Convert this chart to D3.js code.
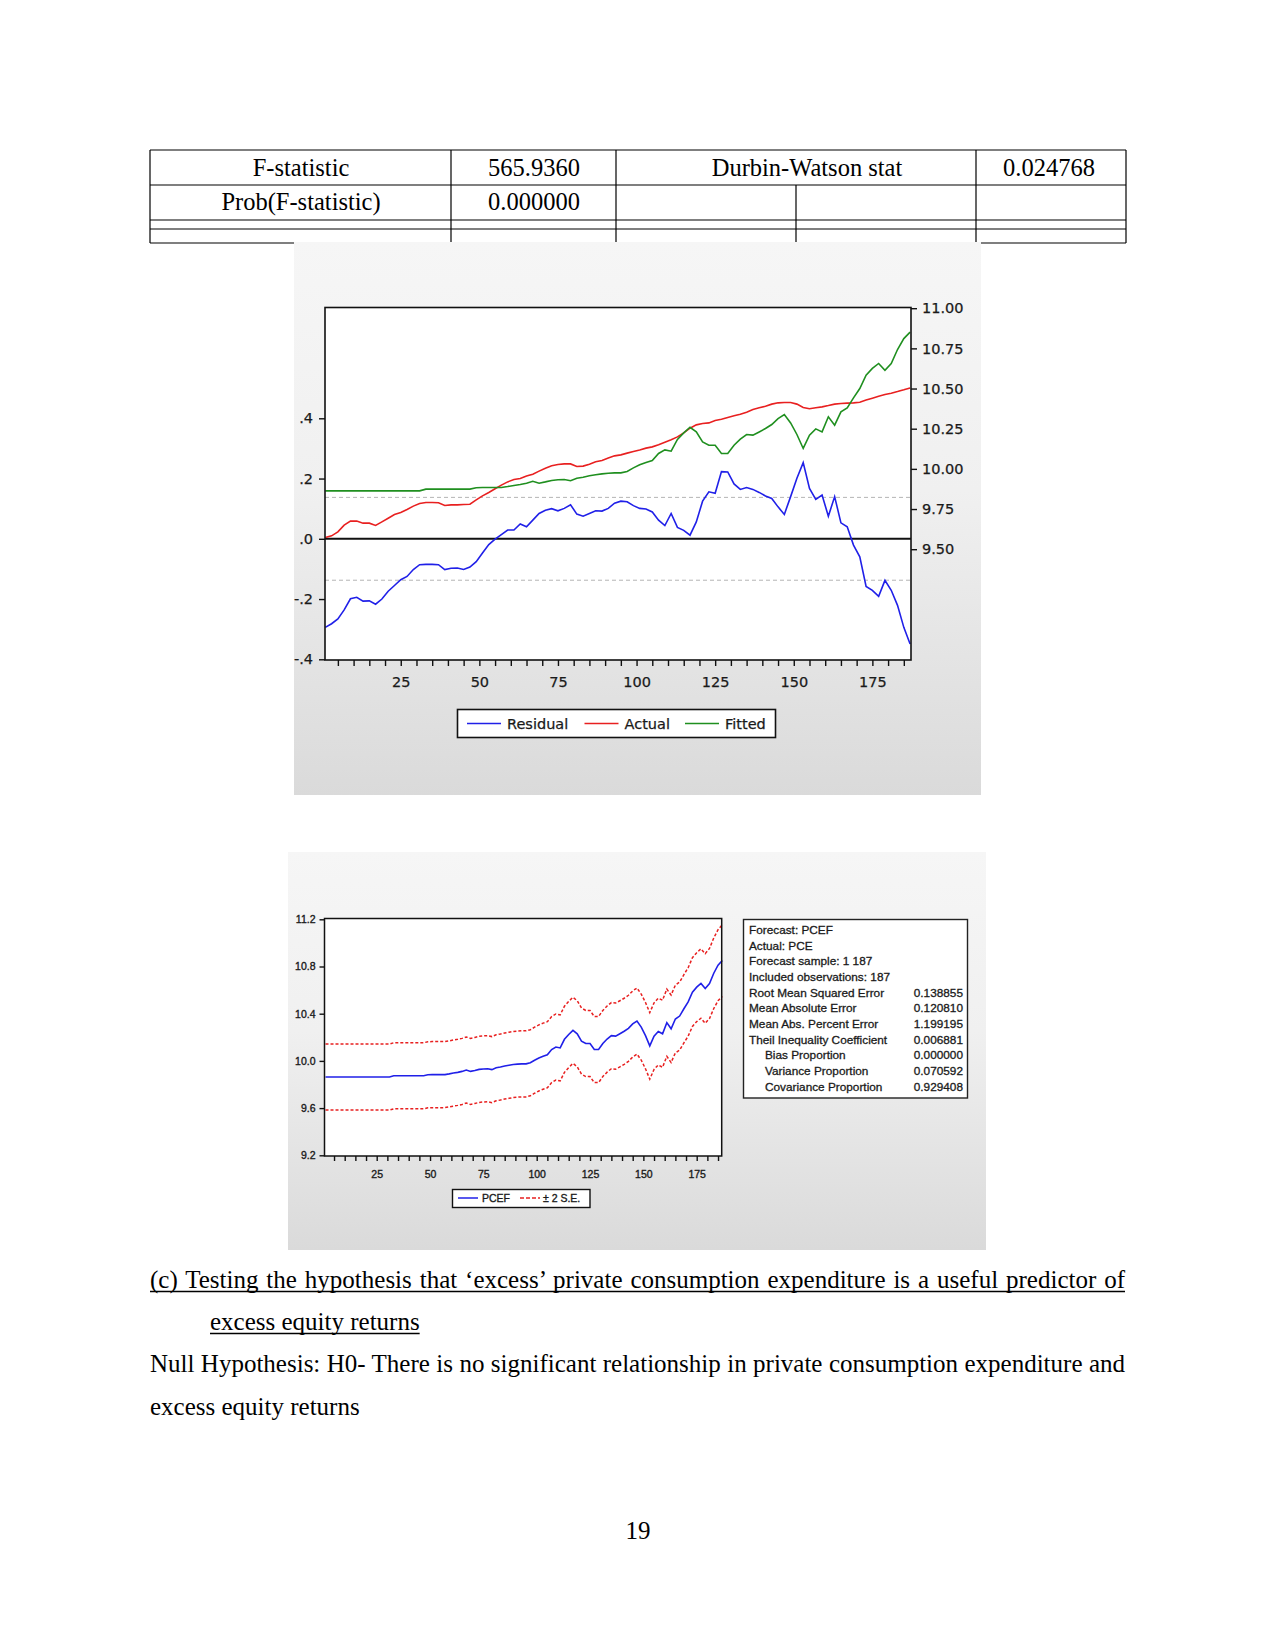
<!DOCTYPE html>
<html><head><meta charset="utf-8">
<script src="https://cdn.jsdelivr.net/npm/d3@7"></script>
<style>body{margin:0;background:#fff} svg{display:block}</style>
</head><body>
<svg id="page" width="1275" height="1650"></svg>
<script>
// ---------- DATA ----------
const tableRows = [
  ["F-statistic", "565.9360", "Durbin-Watson stat", "0.024768"],
  ["Prob(F-statistic)", "0.000000", "", ""]
];

const obs = [1,3,5,7,9,11,13,15,17,19,21,23,25,27,29,31,33,35,37,39,41,43,45,47,49,51,53,55,57,59,
  61,63,65,67,69,71,73,75,77,79,81,83,85,87,89,91,93,95,97,99,101,103,105,107,109,111,113,115,117,119,
  121,123,125,127,129,131,133,135,137,139,141,143,145,147,149,151,153,155,157,159,161,163,165,167,169,171,173,175,177,179,
  181,183,185,187];

const actual = [9.573,9.583,9.608,9.650,9.675,9.675,9.662,9.662,9.648,9.670,
  9.693,9.716,9.728,9.747,9.768,9.785,9.791,9.791,9.789,9.772,
  9.776,9.776,9.778,9.780,9.807,9.832,9.853,9.876,9.899,9.919,
  9.934,9.940,9.955,9.967,9.986,10.004,10.019,10.027,10.031,10.031,
  10.015,10.017,10.029,10.044,10.052,10.067,10.081,10.087,10.098,10.108,
  10.118,10.129,10.137,10.150,10.166,10.181,10.199,10.224,10.253,10.274,
  10.282,10.286,10.301,10.309,10.320,10.330,10.340,10.353,10.369,10.380,
  10.390,10.403,10.411,10.413,10.413,10.403,10.382,10.374,10.380,10.386,
  10.394,10.403,10.407,10.409,10.411,10.415,10.428,10.440,10.452,10.463,
  10.471,10.481,10.492,10.504];

const fitted = [9.863,9.863,9.863,9.863,9.863,9.863,9.863,9.863,9.863,9.863,
  9.863,9.863,9.863,9.863,9.863,9.863,9.874,9.874,9.874,9.874,
  9.874,9.874,9.874,9.874,9.882,9.884,9.884,9.884,9.884,9.890,
  9.897,9.903,9.911,9.923,9.911,9.919,9.928,9.932,9.934,9.926,
  9.942,9.948,9.957,9.963,9.969,9.973,9.975,9.975,9.984,10.006,
  10.025,10.040,10.052,10.096,10.118,10.110,10.183,10.224,10.259,10.230,
  10.168,10.147,10.147,10.096,10.096,10.147,10.185,10.214,10.210,10.230,
  10.251,10.276,10.313,10.338,10.286,10.214,10.127,10.210,10.249,10.230,
  10.324,10.272,10.355,10.380,10.442,10.500,10.583,10.625,10.656,10.614,
  10.656,10.743,10.811,10.851];

const residual = [-0.294,-0.282,-0.266,-0.236,-0.199,-0.194,-0.207,-0.206,-0.217,-0.200,
  -0.174,-0.155,-0.136,-0.125,-0.102,-0.086,-0.085,-0.085,-0.086,-0.102,
  -0.098,-0.097,-0.102,-0.094,-0.076,-0.047,-0.019,-0.001,0.014,0.029,
  0.029,0.049,0.040,0.062,0.084,0.095,0.100,0.093,0.101,0.113,
  0.082,0.075,0.084,0.093,0.092,0.101,0.118,0.125,0.123,0.110,
  0.101,0.099,0.089,0.062,0.044,0.084,0.038,0.028,0.012,0.056,
  0.125,0.156,0.151,0.223,0.222,0.182,0.164,0.170,0.164,0.154,
  0.142,0.134,0.106,0.081,0.140,0.201,0.253,0.167,0.131,0.145,
  0.075,0.140,0.053,0.040,-0.021,-0.060,-0.158,-0.171,-0.191,-0.138,
  -0.171,-0.221,-0.294,-0.349];

const residualSE = 0.1375;

// forecast chart: PCEF is the fitted series; bands are +/- 2 S.E.
const pcef = fitted;
const upperBand = [10.143,10.143,10.143,10.143,10.143,10.143,10.143,10.143,10.143,10.143,
  10.143,10.143,10.143,10.143,10.143,10.143,10.154,10.154,10.154,10.154,
  10.154,10.154,10.154,10.154,10.162,10.164,10.164,10.164,10.164,10.170,
  10.177,10.183,10.191,10.203,10.191,10.199,10.208,10.212,10.214,10.206,
  10.222,10.228,10.237,10.243,10.249,10.253,10.255,10.255,10.264,10.286,
  10.305,10.320,10.332,10.376,10.398,10.390,10.463,10.504,10.539,10.510,
  10.448,10.427,10.427,10.376,10.376,10.427,10.465,10.494,10.490,10.510,
  10.531,10.556,10.593,10.618,10.566,10.495,10.409,10.492,10.532,10.514,
  10.609,10.558,10.642,10.668,10.731,10.790,10.874,10.917,10.950,10.909,
  10.953,11.042,11.112,11.155];
const lowerBand = [9.583,9.583,9.583,9.583,9.583,9.583,9.583,9.583,9.583,9.583,
  9.583,9.583,9.583,9.583,9.583,9.583,9.594,9.594,9.594,9.594,
  9.594,9.594,9.594,9.594,9.602,9.604,9.604,9.604,9.604,9.610,
  9.617,9.623,9.631,9.643,9.631,9.639,9.648,9.652,9.654,9.646,
  9.662,9.668,9.677,9.683,9.689,9.693,9.695,9.695,9.704,9.726,
  9.745,9.760,9.772,9.816,9.838,9.830,9.903,9.944,9.979,9.950,
  9.888,9.867,9.867,9.816,9.816,9.867,9.905,9.934,9.930,9.950,
  9.971,9.996,10.033,10.058,10.006,9.933,9.845,9.928,9.966,9.946,
  10.039,9.986,10.068,10.092,10.153,10.210,10.292,10.333,10.362,10.319,
  10.359,10.444,10.510,10.547];

// ticks
const xMinorTicks = [5,10,15,20,25,30,35,40,45,50,55,60,65,70,75,80,85,90,95,100,105,110,115,120,125,130,135,140,145,150,155,160,165,170,175,180,185];
const xLabelTicks = [25,50,75,100,125,150,175];
const leftTicks = [-0.4,-0.2,0,0.2,0.4];
const leftTickLabels = ["-.4","-.2",".0",".2",".4"];
const rightTicks = [9.5,9.75,10,10.25,10.5,10.75,11];
const rightTickLabels = ["9.50","9.75","10.00","10.25","10.50","10.75","11.00"];
const fcTicks = [9.2,9.6,10.0,10.4,10.8,11.2];
const fcTickLabels = ["9.2","9.6","10.0","10.4","10.8","11.2"];

const legend1 = [["Residual","#2020e8"],["Actual","#e82020"],["Fitted","#1f8f1f"]];
const statsLabels = ["Forecast: PCEF","Actual: PCE","Forecast sample: 1 187","Included observations: 187",
  "Root Mean Squared Error","Mean Absolute Error","Mean Abs. Percent Error","Theil Inequality Coefficient",
  "Bias Proportion","Variance Proportion","Covariance Proportion"];
const statsValues = ["","","","","0.138855","0.120810","1.199195","0.006881","0.000000","0.070592","0.929408"];
const statsIndent = [0,0,0,0,0,0,0,0,1,1,1];

const bodyLines = [
  {text:"(c) Testing the hypothesis that \u2018excess\u2019 private consumption expenditure is a useful predictor of", justify:true, x:150, underline:true},
  {text:"excess equity returns", justify:false, x:210, underline:true},
  {text:"Null Hypothesis: H0- There is no significant relationship in private consumption expenditure and", justify:true, x:150, underline:false},
  {text:"excess equity returns", justify:false, x:150, underline:false}
];
const pageNumber = "19";

// ---------- DRAW ----------
const svg = d3.select("#page");
svg.append("rect").attr("width",1275).attr("height",1650).attr("fill","#fff");
const defs = svg.append("defs");
const grad = defs.append("linearGradient").attr("id","bg").attr("x1",0).attr("y1",0).attr("x2",0).attr("y2",1);
grad.append("stop").attr("offset","0%").attr("stop-color","#f6f6f6");
grad.append("stop").attr("offset","45%").attr("stop-color","#f0f0f0");
grad.append("stop").attr("offset","100%").attr("stop-color","#dadada");

const serif = "'Liberation Serif','Times New Roman',serif";

// table
const T = svg.append("g").attr("stroke","#000").attr("stroke-width",1.2);
[150,185,220,229,243].forEach(y=>T.append("line").attr("x1",150).attr("x2",1126).attr("y1",y).attr("y2",y));
[150,451,616,976,1126].forEach(x=>T.append("line").attr("x1",x).attr("x2",x).attr("y1",150).attr("y2",243));
T.append("line").attr("x1",796).attr("x2",796).attr("y1",185).attr("y2",243);
const cellX = [301,534,807,1049];
const rowBase = [176,210];
tableRows.forEach((r,ri)=>r.forEach((t,ci)=>{
  svg.append("text").attr("x",cellX[ci]).attr("y",rowBase[ri]).attr("text-anchor","middle")
    .attr("font-family",serif).attr("font-size",24.5).attr("fill","#000").text(t);
}));

// ---------- Chart 1 ----------
const c1 = svg.append("g");
c1.append("rect").attr("x",294).attr("y",242).attr("width",687).attr("height",553).attr("fill","url(#bg)");
c1.append("rect").attr("x",325).attr("y",307.5).attr("width",586).attr("height",352.5).attr("fill","#fff");

const x1 = d3.scaleLinear().domain([1,187]).range([325.3,910.1]);
const yL = d3.scaleLinear().domain([-0.4,0.4]).range([659.3,418.3]);
const yR = d3.scaleLinear().domain([9.5,11]).range([549.2,308.2]);
const axFont = "'DejaVu Sans',Verdana,sans-serif";

function styleAxis(g, size, font, sw){
  g.select(".domain").remove();
  g.selectAll(".tick line").attr("stroke","#111").attr("stroke-width",1.4);
  g.selectAll(".tick text").attr("font-family",font).attr("font-size",size).attr("fill","#1a1a1a")
    .attr("stroke","#1a1a1a").attr("stroke-width",sw||0);
}
c1.append("g").attr("transform","translate(0,660)")
  .call(d3.axisBottom(x1).tickValues(xMinorTicks).tickSize(6).tickPadding(11)
    .tickFormat(d=>xLabelTicks.includes(d)?String(d):""))
  .call(g=>styleAxis(g,14.5,axFont,0.25));
c1.append("g").attr("transform","translate(325,0)")
  .call(d3.axisLeft(yL).tickValues(leftTicks).tickSize(6).tickPadding(6)
    .tickFormat((d,i)=>leftTickLabels[i]))
  .call(g=>styleAxis(g,14.5,axFont,0.25));
c1.append("g").attr("transform","translate(911,0)")
  .call(d3.axisRight(yR).tickValues(rightTicks).tickSize(6).tickPadding(5)
    .tickFormat((d,i)=>rightTickLabels[i]))
  .call(g=>styleAxis(g,14.5,axFont,0.25));

// SE dashed lines and zero line
[residualSE,-residualSE].forEach(v=>{
  c1.append("line").attr("x1",325).attr("x2",911).attr("y1",yL(v)).attr("y2",yL(v))
    .attr("stroke","#b4b4b4").attr("stroke-width",1).attr("stroke-dasharray","4,3");
});
c1.append("line").attr("x1",325).attr("x2",911).attr("y1",yL(0)).attr("y2",yL(0))
  .attr("stroke","#111").attr("stroke-width",2);

const lineL = d3.line().x((d,i)=>x1(obs[i])).y(d=>yL(d));
const lineR = d3.line().x((d,i)=>x1(obs[i])).y(d=>yR(d));
c1.append("path").attr("d",lineL(residual)).attr("fill","none").attr("stroke",legend1[0][1]).attr("stroke-width",1.6);
c1.append("path").attr("d",lineR(actual)).attr("fill","none").attr("stroke",legend1[1][1]).attr("stroke-width",1.6);
c1.append("path").attr("d",lineR(fitted)).attr("fill","none").attr("stroke",legend1[2][1]).attr("stroke-width",1.6);

c1.append("rect").attr("x",325).attr("y",307.5).attr("width",586).attr("height",352.5)
  .attr("fill","none").attr("stroke","#111").attr("stroke-width",1.6);

// legend 1
c1.append("rect").attr("x",457.5).attr("y",709.5).attr("width",318).attr("height",28)
  .attr("fill","#fff").attr("stroke","#111").attr("stroke-width",1.6);
const leg1X = [467,584.5,685];
legend1.forEach((d,i)=>{
  c1.append("line").attr("x1",leg1X[i]).attr("x2",leg1X[i]+34).attr("y1",723.5).attr("y2",723.5)
    .attr("stroke",d[1]).attr("stroke-width",1.6);
  c1.append("text").attr("x",leg1X[i]+40).attr("y",729).attr("font-family",axFont).attr("font-size",14.5)
    .attr("fill","#1a1a1a").attr("stroke","#1a1a1a").attr("stroke-width",0.25).text(d[0]);
});

// ---------- Chart 2 ----------
const c2 = svg.append("g");
c2.append("rect").attr("x",288).attr("y",852).attr("width",698).attr("height",398).attr("fill","url(#bg)");
c2.append("rect").attr("x",324.5).attr("y",918.5).attr("width",397.2).attr("height",237.5).attr("fill","#fff");
const x2 = d3.scaleLinear().domain([1,187]).range([325.5,722.3]);
const y2 = d3.scaleLinear().domain([9.2,11.2]).range([1155.3,919.3]);
const smFont = "'Liberation Sans',Arial,sans-serif";

c2.append("g").attr("transform","translate(0,1156)")
  .call(d3.axisBottom(x2).tickValues(xMinorTicks).tickSize(5).tickPadding(10)
    .tickFormat(d=>xLabelTicks.includes(d)?String(d):""))
  .call(g=>styleAxis(g,10.5,smFont,0.35));
c2.append("g").attr("transform","translate(324.5,0)")
  .call(d3.axisLeft(y2).tickValues(fcTicks).tickSize(5).tickPadding(4)
    .tickFormat((d,i)=>fcTickLabels[i]))
  .call(g=>styleAxis(g,10.5,smFont,0.35));

const line2 = d3.line().x((d,i)=>x2(obs[i])).y(d=>y2(d));
c2.append("path").attr("d",line2(upperBand)).attr("fill","none").attr("stroke","#e82020").attr("stroke-width",1.5).attr("stroke-dasharray","3,2");
c2.append("path").attr("d",line2(lowerBand)).attr("fill","none").attr("stroke","#e82020").attr("stroke-width",1.5).attr("stroke-dasharray","3,2");
c2.append("path").attr("d",line2(pcef)).attr("fill","none").attr("stroke","#2020e8").attr("stroke-width",1.6);
c2.append("rect").attr("x",324.5).attr("y",918.5).attr("width",397.2).attr("height",237.5)
  .attr("fill","none").attr("stroke","#111").attr("stroke-width",1.5);

// legend 2
c2.append("rect").attr("x",452.5).attr("y",1189.5).attr("width",137.5).attr("height",18)
  .attr("fill","#fff").attr("stroke","#111").attr("stroke-width",1.4);
c2.append("line").attr("x1",458).attr("x2",478).attr("y1",1198).attr("y2",1198).attr("stroke","#2020e8").attr("stroke-width",1.5);
c2.append("text").attr("x",482).attr("y",1202).attr("font-family",smFont).attr("font-size",10.5).attr("fill","#1a1a1a")
  .attr("stroke","#1a1a1a").attr("stroke-width",0.35).text("PCEF");
c2.append("line").attr("x1",520).attr("x2",540).attr("y1",1198).attr("y2",1198).attr("stroke","#e82020").attr("stroke-width",1.5).attr("stroke-dasharray","4,2");
c2.append("text").attr("x",543).attr("y",1202).attr("font-family",smFont).attr("font-size",10.5).attr("fill","#1a1a1a")
  .attr("stroke","#1a1a1a").attr("stroke-width",0.35).text("\u00b1 2 S.E.");

// stats box
c2.append("rect").attr("x",743.5).attr("y",919.5).attr("width",224).attr("height",178.5)
  .attr("fill","#fff").attr("stroke","#222").attr("stroke-width",1.4);
statsLabels.forEach((t,i)=>{
  const y = 934 + i*15.65;
  c2.append("text").attr("x",749 + statsIndent[i]*16).attr("y",y).attr("font-family",smFont)
    .attr("font-size",11.8).attr("fill","#1a1a1a").attr("stroke","#1a1a1a").attr("stroke-width",0.3).text(t);
  if(statsValues[i]) c2.append("text").attr("x",963).attr("y",y).attr("text-anchor","end")
    .attr("font-family",smFont).attr("font-size",11.8).attr("fill","#1a1a1a").attr("stroke","#1a1a1a").attr("stroke-width",0.3).text(statsValues[i]);
});

// ---------- Body text ----------
const bodyBase = [1288,1330,1372,1415];
bodyLines.forEach((l,i)=>{
  const t = svg.append("text").attr("x",l.x).attr("y",bodyBase[i]).attr("font-family",serif)
    .attr("font-size",25).attr("fill","#000").text(l.text);
  let w = t.node().getComputedTextLength();
  if(l.justify){
    const spaces = (l.text.match(/ /g)||[]).length;
    const extra = (1125 - l.x - w)/spaces;
    t.attr("word-spacing", extra);
    w = 1125 - l.x;
  }
  if(l.underline){
    svg.append("line").attr("x1",l.x).attr("x2",l.x+w).attr("y1",bodyBase[i]+3.5).attr("y2",bodyBase[i]+3.5)
      .attr("stroke","#000").attr("stroke-width",1.3);
  }
});
svg.append("text").attr("x",638).attr("y",1539).attr("text-anchor","middle").attr("font-family",serif)
  .attr("font-size",25).attr("fill","#000").text(pageNumber);
</script>
</body></html>
